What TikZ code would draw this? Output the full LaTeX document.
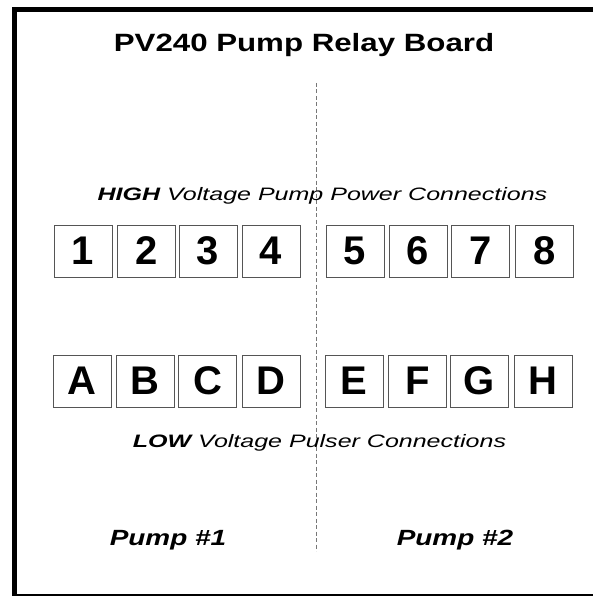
\documentclass[tikz,border=0pt]{standalone}
\usepackage{fontspec}
\setmainfont{Liberation Sans}
\newfontfamily\titlefont[FakeStretch=1.25]{Liberation Sans}
\newfontfamily\rowfont[FakeStretch=1.39]{Liberation Sans}
\newfontfamily\pumpfont[FakeStretch=1.27]{Liberation Sans}
\usetikzlibrary{positioning}
\definecolor{boxline}{HTML}{555555}
\definecolor{divline}{HTML}{777777}

\begin{document}
\begin{tikzpicture}[
    x=1pt, y=-1pt,
    every node/.style={font=\fontsize{18}{20}\selectfont},
    term/.style={draw=boxline, line width=0.8pt, fill=white,
                 minimum width=58pt, minimum height=52pt, inner sep=0pt,
                 font=\fontsize{40}{42}\selectfont\bfseries},
    rowlabel/.style={font=\rowfont\fontsize{18}{20}\selectfont\itshape},
    pump/.style={font=\pumpfont\fontsize{22}{24}\selectfont\bfseries\itshape}
]
    \useasboundingbox (0,0) rectangle (593,596);

    % frame
    \draw[line width=5pt] (14,596) -- (14,7);
    \draw[line width=5pt] (12,9.5) -- (593,9.5);
    \draw[line width=1.5pt] (12,595) -- (593,595);

    \node[font=\titlefont\fontsize{25}{28}\selectfont\bfseries] (title) at (304,45)
        {PV240 Pump Relay Board};

    % divider between pump 1 and pump 2
    \coordinate (divtop) at (316,83);
    \coordinate (divbot) at (316,551);
    \draw[divline, line width=1pt, dash pattern=on 4pt off 2.5pt] (divtop) -- (divbot);

    \node[rowlabel] (high) at (322.5,196) {\textbf{HIGH} Voltage Pump Power Connections};

    % pump power terminals
    \foreach \n/\x in {1/83, 2/146.5, 3/208, 4/271, 5/355, 6/418, 7/480.5, 8/544.5}
        \node[term] (hv\n) at (\x,251) {\n};

    % pulser terminals
    \foreach \n/\x in {A/82, B/145, C/207.5, D/271, E/354, F/417.5, G/479, H/543}
        \node[term] (lv\n) at (\x,381) {\n};

    \node[rowlabel] (low) at (319.5,443) {\textbf{LOW} Voltage Pulser Connections};

    \node[pump] (pumpone) at (168,540) {Pump \#1};
    \node[pump] (pumptwo) at (455,540) {Pump \#2};
\end{tikzpicture}
\end{document}
